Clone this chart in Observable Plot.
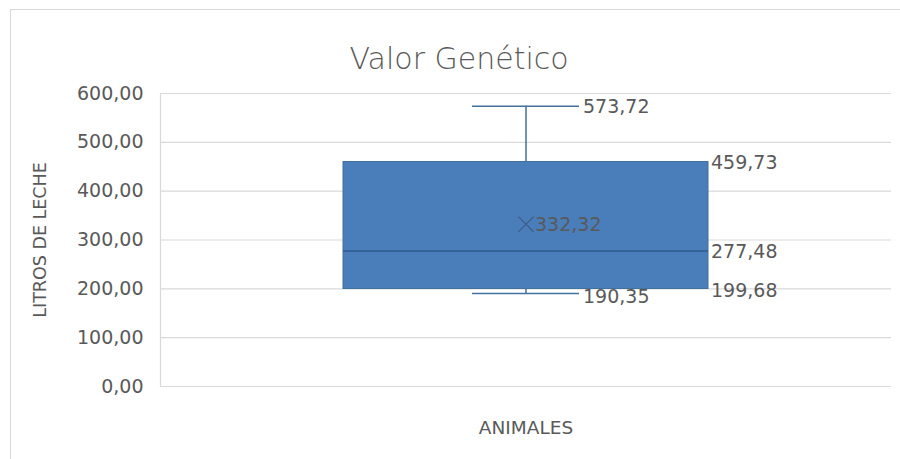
<!DOCTYPE html>
<html>
<head>
<meta charset="utf-8">
<script src="https://cdn.jsdelivr.net/npm/d3@7"></script>
<script src="https://cdn.jsdelivr.net/npm/@observablehq/plot@0.6"></script>
<style>
  html, body { margin: 0; padding: 0; background: #fff; }
  #wrap { position: relative; width: 900px; height: 459px; overflow: hidden; }
  #border { position: absolute; left: 10px; top: 9px; width: 1000px; height: 1000px; border-left: 1.5px solid #d9d9d9; border-top: 1.5px solid #d9d9d9; }
  #chart { position: absolute; left: 0; top: 0; }
</style>
</head>
<body>
<div id="wrap"><div id="border"></div><div id="chart"></div></div>
<script>
// Data
const categories = ["Valor Genético"];
const minimo  = [190.35];
const q1      = [199.68];
const mediana = [277.48];
const media   = [332.32];
const q3      = [459.73];
const maximo  = [573.72];
const yTicks  = [0, 100, 200, 300, 400, 500, 600];
const titulo = "Valor Genético";
const ejeY = "LITROS DE LECHE";
const ejeX = "ANIMALES";

const rows = categories.map((c, i) => ({cat: c, min: minimo[i], q1: q1[i], med: mediana[i], mean: media[i], q3: q3[i], max: maximo[i]}));

const es = d3.formatLocale({decimal: ",", thousands: ".", grouping: [3], currency: ["", "€"]});
const fmt = es.format(".2f");

const font = "DejaVu Sans";
const txt = "#595959";

const chart = Plot.plot({
  width: 900,
  height: 459,
  marginTop: 93,
  marginBottom: 73,
  marginLeft: 160,
  marginRight: 9,
  style: {fontFamily: font, background: "transparent", overflow: "visible"},
  x: {type: "band", domain: categories, paddingInner: 0, paddingOuter: 0.5, axis: null},
  y: {domain: [0, 600]},
  marks: [
    Plot.gridY(yTicks, {stroke: "#d9d9d9", strokeOpacity: 1, strokeWidth: 1.2}),
    Plot.frame({anchor: "left", stroke: "#d9d9d9", strokeWidth: 1.2}),
    Plot.axisY(yTicks, {tickSize: 0, tickPadding: 17, tickFormat: fmt, fontSize: 19, fill: txt, label: null}),
    // whiskers
    Plot.ruleX(rows, {x: "cat", y1: "q3", y2: "max", stroke: "#41719c", strokeWidth: 1.5}),
    Plot.ruleX(rows, {x: "cat", y1: "min", y2: "q1", stroke: "#41719c", strokeWidth: 1.5}),
    Plot.tickY(rows, {x: "cat", y: "max", stroke: "#41719c", strokeWidth: 1.5, insetLeft: 129, insetRight: 129}),
    Plot.tickY(rows, {x: "cat", y: "min", stroke: "#41719c", strokeWidth: 1.5, insetLeft: 129, insetRight: 129}),
    // box
    Plot.barY(rows, {x: "cat", y1: "q1", y2: "q3", fill: "#4a7ebb", stroke: "#41719c", strokeWidth: 1}),
    Plot.tickY(rows, {x: "cat", y: "med", stroke: "#2f5a8c", strokeWidth: 1.5}),
    // mean marker
    Plot.dot(rows, {x: "cat", y: "mean", symbol: "times", r: 7, stroke: "#3e5b84", strokeWidth: 1.2}),
    // data labels
    Plot.text(rows, {x: "cat", y: "max", text: d => fmt(d.max), textAnchor: "start", dx: 57, dy: 1, fontSize: 19, fill: txt}),
    Plot.text(rows, {x: "cat", y: "min", text: d => fmt(d.min), textAnchor: "start", dx: 57, dy: 3, fontSize: 19, fill: txt}),
    Plot.text(rows, {x: "cat", y: "q3", text: d => fmt(d.q3), textAnchor: "start", dx: 185, dy: 1, fontSize: 19, fill: txt}),
    Plot.text(rows, {x: "cat", y: "med", text: d => fmt(d.med), textAnchor: "start", dx: 185, dy: 1, fontSize: 19, fill: txt}),
    Plot.text(rows, {x: "cat", y: "q1", text: d => fmt(d.q1), textAnchor: "start", dx: 185, dy: 2, fontSize: 19, fill: txt}),
    Plot.text(rows, {x: "cat", y: "mean", text: d => fmt(d.mean), textAnchor: "start", dx: 9, dy: 1, fontSize: 19, fill: txt}),
    // titles
    Plot.text([titulo], {frameAnchor: "top", dx: -67, dy: -46, fontSize: 30, fill: txt, fontWeight: 300}),
    Plot.text([ejeY], {frameAnchor: "left", textAnchor: "middle", dx: -120, rotate: -90, fontSize: 17.5, fill: txt}),
    Plot.text([ejeX], {frameAnchor: "bottom", dy: 47, fontSize: 18.5, fill: txt})
  ]
});
document.getElementById("chart").appendChild(chart);
</script>
</body>
</html>
